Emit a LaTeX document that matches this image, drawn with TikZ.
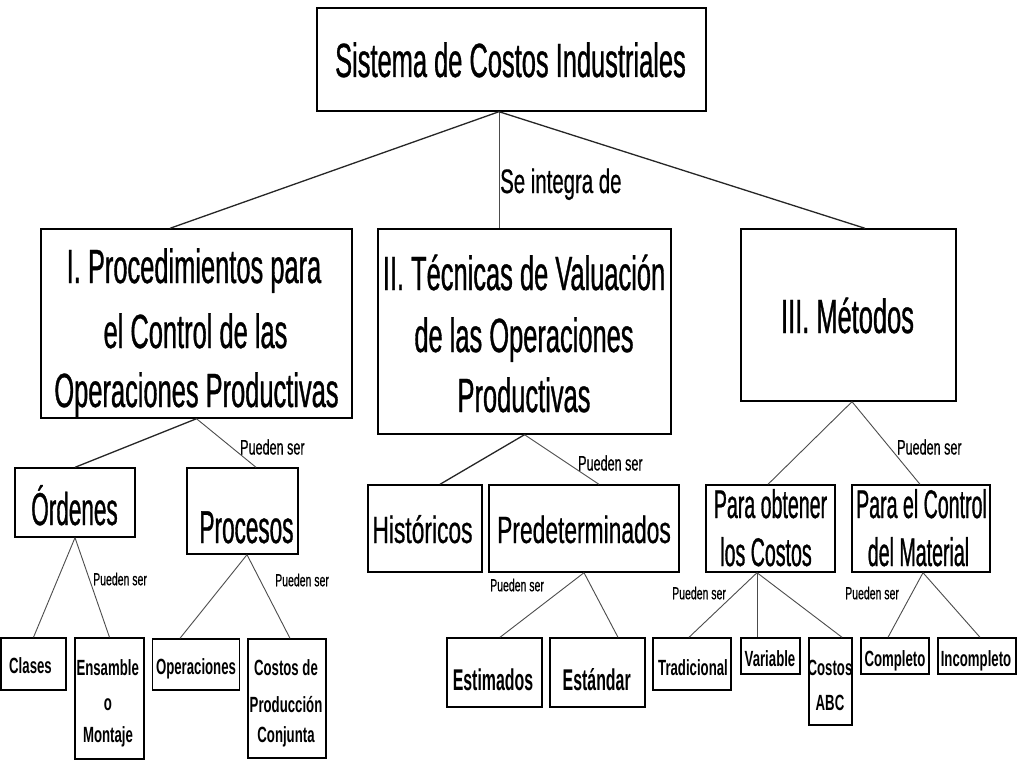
\documentclass[tikz,border=0pt]{standalone}
\usepackage{fontspec}
\setmainfont{Liberation Sans}[FakeStretch=0.53,FakeBold=0.7]
\newfontfamily\fnarrowB{Liberation Sans}[FakeStretch=0.49,FakeBold=0.7]
\newfontfamily\fnarrowC{Liberation Sans}[FakeStretch=0.6,FakeBold=0.5]
\newfontfamily\fboldC{Liberation Sans Bold}[FakeStretch=0.6]
\newfontfamily\fboldA{Liberation Sans Bold}[FakeStretch=0.53]
\newcommand\fbig{\fontsize{48}{58}\selectfont}
\newcommand\fmedB{\fnarrowB\fontsize{46}{55}\selectfont}
\newcommand\fmedC{\fnarrowC\fontsize{38}{46}\selectfont}
\newcommand\fpara{\fnarrowB\fontsize{40}{47}\selectfont}
\newcommand\fsmall{\fboldC\fontsize{22}{30}\selectfont}
\newcommand\fest{\fboldA\fontsize{30}{36}\selectfont}
\newcommand\flab{\fnarrowC\fontsize{21}{25}\selectfont}
\newcommand\flabs{\fnarrowC\fontsize{17.5}{21}\selectfont}
\newcommand\fse{\fnarrowC\fontsize{34}{40}\selectfont}
\begin{document}
\begin{tikzpicture}[x=1pt,y=-1pt,
  bx/.style={draw=black, line width=1.4pt, rectangle, inner sep=0pt},
  txt/.style={inner sep=0pt, anchor=base},
  lab/.style={inner sep=0pt, anchor=west},
  conA/.style={line width=1.3pt, draw=black!85},
  conB/.style={line width=0.9pt, draw=black!70}]
\fill[white] (0,0) rectangle (1024,768);
\useasboundingbox (0,0) rectangle (1024,768);

% boxes
\node[bx, minimum width=389pt, minimum height=103pt] (T) at (511.5,59.5) {};
\node[bx, minimum width=311pt, minimum height=189pt] (b1) at (196.5,323.5) {};
\node[bx, minimum width=293pt, minimum height=205pt] (b2) at (524.5,331.5) {};
\node[bx, minimum width=215pt, minimum height=172pt] (b3) at (848.5,315) {};
\node[bx, minimum width=120pt, minimum height=69pt] (o1) at (75,502.5) {};
\node[bx, minimum width=111pt, minimum height=86pt] (o2) at (242.5,511) {};
\node[bx, minimum width=114pt, minimum height=87pt] (h1) at (425,528.5) {};
\node[bx, minimum width=190pt, minimum height=87pt] (h2) at (584,528.5) {};
\node[bx, minimum width=129pt, minimum height=87pt] (m1) at (770.5,528.5) {};
\node[bx, minimum width=138pt, minimum height=87pt] (m2) at (921,528.5) {};
\node[bx, minimum width=65pt, minimum height=52pt] (c1) at (33.5,664) {};
\node[bx, minimum width=69pt, minimum height=121pt] (c2) at (109.5,698.5) {};
\node[bx, minimum width=87pt, minimum height=51pt] (c3) at (196,664.5) {};
\node[bx, minimum width=78pt, minimum height=119pt] (c4) at (287,698.5) {};
\node[bx, minimum width=95pt, minimum height=69pt] (e1) at (494.5,672.5) {};
\node[bx, minimum width=95pt, minimum height=69pt] (e2) at (597.5,672.5) {};
\node[bx, minimum width=78pt, minimum height=52pt] (t1) at (692,664) {};
\node[bx, minimum width=59pt, minimum height=36pt] (t2) at (770.5,656) {};
\node[bx, minimum width=43pt, minimum height=87pt] (t3) at (830.5,681.5) {};
\node[bx, minimum width=68pt, minimum height=36pt] (k1) at (895,656) {};
\node[bx, minimum width=78pt, minimum height=36pt] (k2) at (977,656) {};

% texts
\node[txt, font=\fbig] (Tt) at (510.5,77) {Sistema de Costos Industriales};
\node[txt, font=\fbig] (b1a) at (194,283) {I. Procedimientos para};
\node[txt, font=\fbig] (b1b) at (195.5,348) {el Control de las};
\node[txt, font=\fbig] (b1c) at (196.5,407) {Operaciones Productivas};
\node[txt, font=\fbig] (b2a) at (524,290) {II. Técnicas de Valuación};
\node[txt, font=\fbig] (b2b) at (524,352) {de las Operaciones};
\node[txt, font=\fbig] (b2c) at (524,412) {Productivas};
\node[txt, font=\fbig] (b3a) at (847.5,333) {III. Métodos};
\node[txt, font=\fmedB] (o1a) at (74.5,525) {Órdenes};
\node[txt, font=\fmedB] (o2a) at (246.5,543) {Procesos};
\node[txt, font=\fmedC] (h1a) at (422.5,543) {Históricos};
\node[txt, font=\fmedC] (h2a) at (584,543) {Predeterminados};
\node[txt, font=\fpara] (m1a) at (770.5,518) {Para obtener};
\node[txt, font=\fpara] (m1b) at (766,566) {los Costos};
\node[txt, font=\fpara] (m2a) at (921.5,518) {Para el Control};
\node[txt, font=\fpara] (m2b) at (918.5,566) {del Material};
\node[txt, font=\fsmall] (c1a) at (30.5,673) {Clases};
\node[txt, font=\fsmall] (c2a) at (107.7,675) {Ensamble};
\node[txt, font=\fsmall] (c2b) at (108,710) {o};
\node[txt, font=\fsmall] (c2c) at (108,742) {Montaje};
\node[txt, font=\fsmall] (c3a) at (196,674) {Operaciones};
\node[txt, font=\fsmall] (c4a) at (286,675) {Costos de};
\node[txt, font=\fsmall] (c4b) at (286,712) {Producción};
\node[txt, font=\fsmall] (c4c) at (286,742) {Conjunta};
\node[txt, font=\fest] (e1a) at (493,690) {Estimados};
\node[txt, font=\fest] (e2a) at (596.7,690) {Estándar};
\node[txt, font=\fsmall] (t1a) at (693,675) {Tradicional};
\node[txt, font=\fsmall] (t2a) at (770,666) {Variable};
\node[txt, font=\fsmall] (t3a) at (830,675) {Costos};
\node[txt, font=\fsmall] (t3b) at (830,710) {ABC};
\node[txt, font=\fsmall] (k1a) at (895,666) {Completo};
\node[txt, font=\fsmall] (k2a) at (976,666) {Incompleto};

% connectors, level 1
\draw[conA] ([xshift=-12.5pt]T.south) -- ([xshift=-26.5pt]b1.north);
\draw[conB] ([xshift=-12.5pt]T.south) -- ([xshift=-25.5pt]b2.north);
\draw[conA] ([xshift=-12.5pt]T.south) -- ([xshift=16.5pt]b3.north);
\node[txt, anchor=base west, font=\fse] (se) at (500,193) {Se integra de};

% level 2
\draw[conA] (b1.south) -- (o1.north);
\draw[conB] (b1.south) -- ([xshift=13.5pt]o2.north);
\draw[conA] (b2.south) -- ([xshift=15pt]h1.north);
\draw[conB] (b2.south) -- ([xshift=15pt]h2.north);
\draw[conB] ([xshift=3.5pt]b3.south) -- ([xshift=-2.5pt]m1.north);
\draw[conB] ([xshift=3.5pt]b3.south) -- ([xshift=-1pt]m2.north);
\node[lab, font=\flab] (l1) at (240,447) {Pueden ser};
\node[lab, font=\flab] (l2) at (578,463) {Pueden ser};
\node[lab, font=\flab] (l3) at (897,447) {Pueden ser};

% level 3
\draw[conB] (o1.south) -- (c1.north);
\draw[conB] (o1.south) -- (c2.north);
\draw[conB] ([xshift=4.5pt]o2.south) -- ([xshift=-16pt]c3.north);
\draw[conB] ([xshift=4.5pt]o2.south) -- ([xshift=3pt]c4.north);
\draw[conB] (h2.south) -- ([xshift=5.5pt]e1.north);
\draw[conB] (h2.south) -- ([xshift=20.5pt]e2.north);
\draw[conB] ([xshift=-13.5pt]m1.south) -- ([xshift=-3pt]t1.north);
\draw[conB] ([xshift=-13.5pt]m1.south) -- ([xshift=-13.5pt]t2.north);
\draw[conB] ([xshift=-13.5pt]m1.south) -- ([xshift=11.5pt]t3.north);
\draw[conB] ([xshift=2pt]m2.south) -- ([xshift=-7pt]k1.north);
\draw[conB] ([xshift=2pt]m2.south) -- ([xshift=3pt]k2.north);
\node[lab, font=\flabs] (l4) at (93,579) {Pueden ser};
\node[lab, font=\flabs] (l5) at (275,580) {Pueden ser};
\node[lab, font=\flabs] (l6) at (490,585) {Pueden ser};
\node[lab, font=\flabs] (l7) at (672,593) {Pueden ser};
\node[lab, font=\flabs] (l8) at (845,593) {Pueden ser};
\end{tikzpicture}
\end{document}
